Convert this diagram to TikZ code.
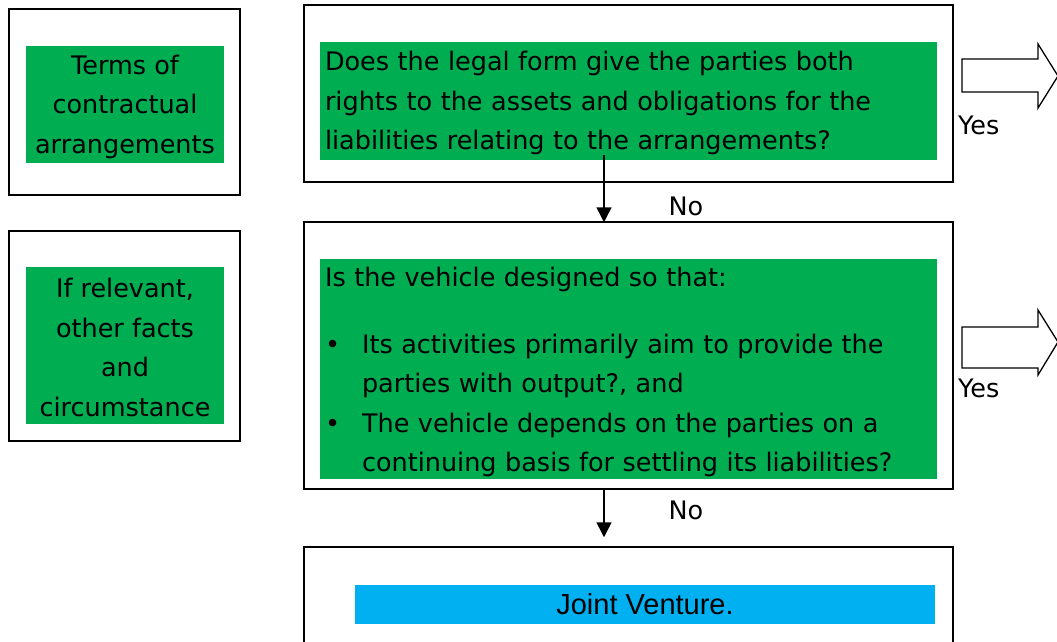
\documentclass[tikz,border=0pt]{standalone}
\usepackage{fontspec}
\setmainfont{DejaVu Sans}
\newfontfamily\jvfont{Liberation Sans}
\usetikzlibrary{arrows.meta}
\definecolor{jvgreen}{RGB}{0,173,80}
\definecolor{jvblue}{RGB}{0,176,240}
\begin{document}
\begin{tikzpicture}[x=1pt,y=-1pt,
  frame/.style={draw=black, line width=1.5pt, inner sep=0pt, fill=white},
  greenbox/.style={fill=jvgreen, inner sep=0pt},
  txt/.style={inner sep=0pt, font=\fontsize{25.5pt}{39.5pt}\selectfont},
  lefttxt/.style={txt, align=center},
  maintxt/.style={txt, text width=607pt, align=left},
  lbl/.style={font=\fontsize{25.5pt}{30pt}\selectfont, inner sep=0pt},
  flow/.style={line width=1.5pt, -{Triangle[width=15pt,length=15pt]}},
  blockarrow/.style={draw=black, line width=1.3pt, fill=white, line join=miter}
]
\clip (0,0) rectangle (1057,642);
\fill[white] (0,0) rectangle (1057,642);

% left boxes
\node[frame, minimum width=231pt, minimum height=186pt] (l1) at (124.5,102) {};
\node[greenbox, minimum width=198pt, minimum height=117pt] (lg1) at (125,104.5) {};
\node[lefttxt] (lt1) at ([yshift=-2pt]lg1.center) {Terms of\\contractual\\arrangements};
\node[frame, minimum width=231pt, minimum height=210pt] (l2) at (124.5,336) {};
\node[greenbox, minimum width=198pt, minimum height=157pt] (lg2) at (125,345.5) {};
\node[lefttxt] (lt2) at ([yshift=-2pt]lg2.center) {If relevant,\\other facts\\and\\circumstance};

% main boxes
\node[frame, minimum width=649pt, minimum height=177pt] (m1) at (628.5,93.5) {};
\node[greenbox, minimum width=617pt, minimum height=118pt] (g1) at (628.5,101) {};
\node[maintxt] (t1) at ([yshift=-2pt]g1.center) {Does the legal form give the parties both\\rights to the assets and obligations for the\\liabilities relating to the arrangements?};

\node[frame, minimum width=649pt, minimum height=267pt] (m2) at (628.5,355.5) {};
\node[greenbox, minimum width=617pt, minimum height=220pt] (g2) at (628.5,369) {};
\node[maintxt] (t2) at ([yshift=-3pt]g2.center) {Is the vehicle designed so that:\\[27.5pt]
\makebox[37pt][l]{\textbullet}Its activities primarily aim to provide the\\
\hspace*{37pt}parties with output?, and\\
\makebox[37pt][l]{\textbullet}The vehicle depends on the parties on a\\
\hspace*{37pt}continuing basis for settling its liabilities?};

\node[frame, minimum width=649pt, minimum height=130pt] (m3) at (628.5,612) {};
\node[fill=jvblue, inner sep=0pt, minimum width=580pt, minimum height=39pt,
      font=\jvfont\fontsize{29pt}{32pt}\selectfont] (jv) at (645,604.5) {Joint Venture.};

% flow arrows
\draw[flow] ([xshift=-24.5pt,yshift=5pt]g1.south) -- ([xshift=-24.5pt,yshift=-1pt]m2.north);
\draw[flow] ([xshift=-24.5pt]m2.south) -- ([xshift=-24.5pt,yshift=9pt]m3.north);
\node[lbl] (no1) at (686,206) {No};
\node[lbl] (no2) at (686,510) {No};

% block arrows
\draw[blockarrow] (962,59) -- (1038,59) -- (1038,44) -- (1058,76) -- (1038,108) -- (1038,92) -- (962,92) -- cycle;
\draw[blockarrow] (962,327) -- (1038,327) -- (1038,310) -- (1058,342) -- (1038,375) -- (1038,368) -- (962,368) -- cycle;
\node[lbl, anchor=west] (yes1) at (958,125) {Yes};
\node[lbl, anchor=west] (yes2) at (958,388) {Yes};
\end{tikzpicture}
\end{document}
